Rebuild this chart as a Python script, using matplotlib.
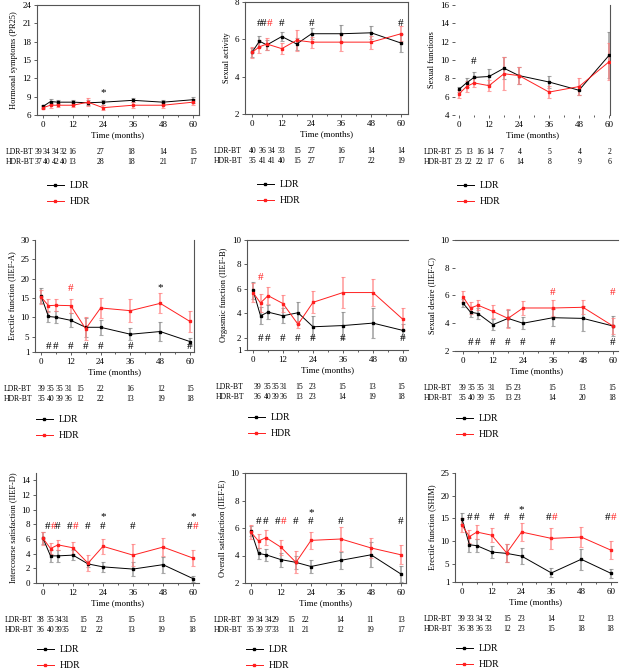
import numpy as np
import matplotlib
matplotlib.use('Agg')
import matplotlib.pyplot as plt

plt.rcParams['font.family'] = 'Liberation Serif'
plt.rcParams['font.size'] = 6

months = [0, 3, 6, 12, 18, 24, 36, 48, 60]

# hormonal symptoms (PR25)
pr25_ldr = [7.4, 8.2, 8.1, 8.1, 8.0, 8.1, 8.4, 8.1, 8.5]
pr25_ldr_err = [0.3, 0.4, 0.3, 0.4, 0.4, 0.4, 0.3, 0.4, 0.5]
pr25_hdr = [7.2, 7.6, 7.6, 7.6, 8.1, 7.2, 7.6, 7.6, 8.1]
pr25_hdr_err = [0.3, 0.4, 0.3, 0.3, 0.6, 0.4, 0.5, 0.4, 0.5]
pr25_n_ldr = [39, 34, 34, 32, 16, 27, 18, 14, 15]
pr25_n_hdr = [37, 40, 42, 40, 13, 28, 18, 21, 17]

# sexual activity
act_ldr = [5.3, 5.9, 5.7, 6.15, 5.75, 6.3, 6.3, 6.35, 5.8]
act_ldr_err = [0.25, 0.3, 0.25, 0.25, 0.3, 0.3, 0.45, 0.35, 0.5]
act_hdr = [5.3, 5.6, 5.75, 5.5, 5.95, 5.85, 5.85, 5.85, 6.3]
act_hdr_err = [0.3, 0.35, 0.3, 0.3, 0.55, 0.3, 0.45, 0.35, 0.4]
act_n_ldr = [40, 36, 34, 33, 15, 27, 16, 14, 14]
act_n_hdr = [35, 41, 41, 40, 15, 27, 17, 22, 19]

# sexual functions
fun_ldr = [6.8, 7.5, 8.1, 8.2, 9.1, 8.3, 7.6, 6.7, 10.5]
fun_ldr_err = [0.3, 0.5, 0.6, 0.8, 1.2, 0.9, 0.7, 0.5, 2.5]
fun_hdr = [6.3, 7.1, 7.5, 7.2, 8.5, 8.3, 6.5, 7.1, 9.8]
fun_hdr_err = [0.4, 0.6, 0.5, 0.6, 1.8, 0.9, 0.7, 0.9, 2.0]
fun_n_ldr = [25, 13, 16, 14, 7, 4, 5, 4, 2]
fun_n_hdr = [23, 22, 22, 17, 6, 14, 8, 9, 6]

# IIEF-A
iiefa_ldr = [15.6, 10.2, 10.0, 9.2, 7.4, 7.4, 5.6, 6.3, 3.7]
iiefa_ldr_err = [2.0, 1.5, 1.6, 1.8, 2.4, 2.0, 1.6, 2.5, 1.0]
iiefa_hdr = [15.3, 13.0, 13.1, 13.0, 7.0, 12.4, 11.7, 13.6, 8.9]
iiefa_hdr_err = [1.8, 1.6, 1.5, 1.8, 3.0, 2.6, 3.0, 2.6, 2.6]
iiefa_n_ldr = [39, 35, 35, 31, 15, 22, 16, 12, 15]
iiefa_n_hdr = [35, 40, 39, 36, 12, 22, 13, 19, 18]

# IIEF-B
iiefb_ldr = [5.9, 3.8, 4.1, 3.8, 4.05, 2.9, 3.0, 3.2, 2.6]
iiefb_ldr_err = [0.7, 0.7, 0.6, 0.6, 0.9, 0.9, 1.1, 1.2, 0.5]
iiefb_hdr = [5.7, 4.85, 5.45, 4.8, 3.1, 4.9, 5.7, 5.7, 3.5]
iiefb_hdr_err = [0.8, 0.7, 0.7, 0.7, 0.3, 0.9, 1.3, 1.1, 0.9]
iiefb_n_ldr = [39, 35, 35, 31, 15, 23, 15, 13, 15]
iiefb_n_hdr = [36, 40, 39, 36, 13, 23, 14, 19, 18]

# IIEF-C
iiefc_ldr = [5.45, 4.8, 4.7, 3.9, 4.35, 4.0, 4.4, 4.35, 3.8]
iiefc_ldr_err = [0.3, 0.35, 0.4, 0.4, 0.6, 0.45, 0.6, 0.9, 0.7]
iiefc_hdr = [5.9, 5.1, 5.3, 4.85, 4.35, 5.1, 5.1, 5.15, 3.8]
iiefc_hdr_err = [0.4, 0.4, 0.35, 0.45, 0.7, 0.5, 0.6, 0.5, 0.6]
iiefc_n_ldr = [39, 35, 35, 31, 15, 23, 15, 13, 15]
iiefc_n_hdr = [35, 40, 39, 35, 13, 23, 14, 20, 18]

# IIEF-D
iiefd_ldr = [6.1, 3.7, 3.7, 3.8, 2.6, 2.2, 1.9, 2.5, 0.6]
iiefd_ldr_err = [0.8, 0.8, 0.8, 0.7, 0.4, 0.7, 1.0, 1.1, 0.4]
iiefd_hdr = [6.1, 4.7, 5.2, 4.8, 2.7, 5.0, 3.8, 4.9, 3.4]
iiefd_hdr_err = [0.9, 0.7, 0.7, 0.8, 1.1, 1.0, 1.5, 1.2, 1.1]
iiefd_n_ldr = [38, 35, 34, 31, 15, 23, 15, 13, 15]
iiefd_n_hdr = [36, 40, 39, 35, 12, 22, 13, 19, 18]

# IIEF-E
iiefe_ldr = [5.8, 4.15, 4.05, 3.7, 3.5, 3.2, 3.65, 4.05, 2.65]
iiefe_ldr_err = [0.35, 0.4, 0.45, 0.5, 0.5, 0.45, 0.6, 0.9, 0.6]
iiefe_hdr = [5.7, 5.05, 5.3, 4.6, 3.5, 5.1, 5.2, 4.55, 4.05]
iiefe_hdr_err = [0.5, 0.5, 0.55, 0.55, 0.8, 0.6, 0.9, 0.7, 0.7]
iiefe_n_ldr = [39, 34, 34, 29, 15, 22, 14, 11, 13]
iiefe_n_hdr = [35, 39, 37, 33, 11, 21, 12, 19, 17]

# SHIM
shim_ldr = [14.9, 9.2, 9.0, 7.6, 7.3, 6.7, 3.0, 6.0, 2.9]
shim_ldr_err = [1.2, 1.5, 1.5, 1.3, 2.0, 1.7, 1.0, 2.3, 1.0]
shim_hdr = [13.5, 11.0, 12.0, 11.3, 7.4, 12.0, 10.6, 10.9, 8.0]
shim_hdr_err = [1.5, 1.4, 1.5, 1.5, 2.0, 2.0, 2.4, 2.3, 2.0]
shim_n_ldr = [39, 33, 34, 32, 15, 23, 14, 12, 13]
shim_n_hdr = [36, 38, 36, 33, 12, 23, 15, 18, 18]

# significance marks: (month, y, colours)
act_hash = [(3, 6.85, 'k'), (6, 6.85, 'kr'), (12, 6.85, 'k'), (24, 6.85, 'k'), (60, 6.85, 'k')]
fun_hash = [(6, 9.8, 'k')]
iiefa_hash = [(3, 2.4, 'k'), (6, 2.4, 'k'), (12, 2.4, 'k'), (18, 2.4, 'k'), (24, 2.4, 'k'),
              (36, 2.4, 'k'), (60, 2.4, 'k'), (12, 17.5, 'r')]
iiefb_hash = [(3, 1.95, 'k'), (6, 1.95, 'k'), (12, 1.95, 'k'), (18, 1.95, 'k'), (24, 1.95, 'k'),
              (36, 1.95, 'k'), (60, 1.95, 'k'), (3, 6.9, 'r')]
iiefc_hash = [(3, 2.6, 'k'), (6, 2.6, 'k'), (12, 2.6, 'k'), (18, 2.6, 'k'), (24, 2.6, 'k'),
              (36, 2.6, 'k'), (60, 2.6, 'k'), (36, 6.2, 'r'), (60, 6.2, 'r')]
iiefd_hash = [(3, 7.7, 'kr'), (6, 7.7, 'k'), (12, 7.7, 'kr'), (18, 7.7, 'k'), (24, 7.7, 'k'),
              (36, 7.7, 'k'), (60, 7.7, 'kr')]
iiefe_hash = [(3, 6.5, 'k'), (6, 6.5, 'k'), (12, 6.5, 'kr'), (18, 6.5, 'k'), (24, 6.5, 'k'),
              (36, 6.5, 'k'), (60, 6.5, 'k')]
shim_hash = [(3, 15.1, 'k'), (6, 15.1, 'k'), (12, 15.1, 'k'), (18, 15.1, 'k'), (24, 15.1, 'k'),
             (36, 15.1, 'kr'), (60, 15.1, 'kr')]

pr25_star = [(24, 9.7)]
iiefa_star = [(48, 17.8)]
iiefd_star = [(24, 9.0), (60, 9.0)]
iiefe_star = [(24, 7.15)]
shim_star = [(24, 17.0)]

panels = [
    dict(ylabel='Hormonal symptoms (PR25)', ldr=pr25_ldr, ldr_err=pr25_ldr_err, hdr=pr25_hdr,
         hdr_err=pr25_hdr_err, n_ldr=pr25_n_ldr, n_hdr=pr25_n_hdr, ylim=(6, 24),
         yticks=[6, 9, 12, 15, 18, 21, 24], hashes=[], stars=pr25_star),
    dict(ylabel='Sexual activity', ldr=act_ldr, ldr_err=act_ldr_err, hdr=act_hdr,
         hdr_err=act_hdr_err, n_ldr=act_n_ldr, n_hdr=act_n_hdr, ylim=(2, 8),
         yticks=[2, 4, 6, 8], hashes=act_hash, stars=[]),
    dict(ylabel='Sexual functions', ldr=fun_ldr, ldr_err=fun_ldr_err, hdr=fun_hdr,
         hdr_err=fun_hdr_err, n_ldr=fun_n_ldr, n_hdr=fun_n_hdr, ylim=(4, 16),
         yticks=[4, 6, 8, 10, 12, 14, 16], hashes=fun_hash, stars=[]),
    dict(ylabel='Erectile function (IIEF-A)', ldr=iiefa_ldr, ldr_err=iiefa_ldr_err, hdr=iiefa_hdr,
         hdr_err=iiefa_hdr_err, n_ldr=iiefa_n_ldr, n_hdr=iiefa_n_hdr, ylim=(1, 30),
         yticks=[1, 5, 10, 15, 20, 25, 30], hashes=iiefa_hash, stars=iiefa_star),
    dict(ylabel='Orgasmic function (IIEF-B)', ldr=iiefb_ldr, ldr_err=iiefb_ldr_err, hdr=iiefb_hdr,
         hdr_err=iiefb_hdr_err, n_ldr=iiefb_n_ldr, n_hdr=iiefb_n_hdr, ylim=(1, 10),
         yticks=[1, 2, 4, 6, 8, 10], hashes=iiefb_hash, stars=[]),
    dict(ylabel='Sexual desire (IIEF-C)', ldr=iiefc_ldr, ldr_err=iiefc_ldr_err, hdr=iiefc_hdr,
         hdr_err=iiefc_hdr_err, n_ldr=iiefc_n_ldr, n_hdr=iiefc_n_hdr, ylim=(2, 10),
         yticks=[2, 4, 6, 8, 10], hashes=iiefc_hash, stars=[]),
    dict(ylabel='Intercourse satisfaction (IIEF-D)', ldr=iiefd_ldr, ldr_err=iiefd_ldr_err,
         hdr=iiefd_hdr, hdr_err=iiefd_hdr_err, n_ldr=iiefd_n_ldr, n_hdr=iiefd_n_hdr, ylim=(0, 15),
         yticks=[0, 2, 4, 6, 8, 10, 12, 14], hashes=iiefd_hash, stars=iiefd_star),
    dict(ylabel='Overall satisfaction (IIEF-E)', ldr=iiefe_ldr, ldr_err=iiefe_ldr_err, hdr=iiefe_hdr,
         hdr_err=iiefe_hdr_err, n_ldr=iiefe_n_ldr, n_hdr=iiefe_n_hdr, ylim=(2, 10),
         yticks=[2, 4, 6, 8, 10], hashes=iiefe_hash, stars=iiefe_star),
    dict(ylabel='Erectile function (SHIM)', ldr=shim_ldr, ldr_err=shim_ldr_err, hdr=shim_hdr,
         hdr_err=shim_hdr_err, n_ldr=shim_n_ldr, n_hdr=shim_n_hdr, ylim=(1, 25),
         yticks=[1, 5, 10, 15, 20, 25], hashes=shim_hash, stars=shim_star),
]

# layout (pixels: left, top, right, bottom) and per-panel styling
W, H = 620, 669
boxes = [(37, 5, 199, 115), (245, 2, 408, 114), (455, 5, 610, 115),
         (35, 240, 194, 352), (247, 240, 408, 350), (455, 240, 618, 351),
         (36, 473, 199, 583), (245, 473, 406, 583), (455, 473, 617, 582)]
xlims = [(-2.4, 62.4), (-2.8, 62.8), (-1.6, 60.4), (-2.4, 61.6), (-2.4, 62),
         (-3.2, 62), (-2.8, 62.4), (-2.4, 62), (-2.8, 62.4)]
shown_spines = ['tblr', 'tblr', 'r', 'lbr', 'tlb', 'tb', 'lb', 'tblr', 'lb']
col_x = [[-1.9, 1.6, 5.0, 8.2, 11.6, 23.2, 35.3, 48.1, 60],
         [0.4, 4.3, 8.0, 12.0, 18.1, 24, 36, 48, 60],
         [0, 4, 8.3, 12.3, 17, 24.3, 36.3, 48.3, 60.3],
         [0.1, 3.75, 7.4, 11.2, 15.9, 23.8, 35.9, 48.2, 60],
         [2, 5.7, 9.1, 12.4, 18.4, 24, 35.6, 47.6, 59.3],
         [0, 3.3, 7, 11.3, 18, 22, 35.7, 47.7, 59.7],
         [-0.8, 3.0, 6.1, 8.9, 16, 22.8, 35.3, 47.3, 59.6],
         [-0.3, 3.5, 6.9, 10, 16.1, 21.7, 35.6, 47.6, 60],
         [0, 3.6, 7.1, 10.7, 18.1, 24.1, 35.9, 48, 59.7]]
legend_dx = [10, 12, 2, 1, 1, 1, 1, 1, 1]
legend_dy = [66, 66, 66, 63, 63, 63, 62, 62, 62]
sides = {'t': 'top', 'b': 'bottom', 'l': 'left', 'r': 'right'}

red = '#ff1f1f'
fig = plt.figure(figsize=(W / 100, H / 100), dpi=100)

for i, p in enumerate(panels):
    l, t, r, b = boxes[i]
    ax = fig.add_axes([l / W, 1 - b / H, (r - l) / W, (b - t) / H])

    ax.errorbar(months, p['ldr'], yerr=p['ldr_err'], fmt='none', ecolor='#8a8a8a',
                elinewidth=1.2, capsize=1.5, capthick=0.8, alpha=0.75, zorder=1)
    ax.errorbar(months, p['hdr'], yerr=p['hdr_err'], fmt='none', ecolor='#ff8080',
                elinewidth=1.2, capsize=1.5, capthick=0.8, alpha=0.75, zorder=1)
    ax.plot(months, p['ldr'], color='black', lw=0.7, marker='s', ms=2, label='LDR', zorder=3)
    ax.plot(months, p['hdr'], color=red, lw=0.7, marker='s', ms=2, label='HDR', zorder=3)

    for m, y, kind in p['hashes']:
        if kind == 'kr':
            ax.annotate('#', (m, y), xytext=(-2.2, 0), textcoords='offset points',
                        ha='center', va='center', fontsize=8, color='black')
            ax.annotate('#', (m, y), xytext=(2.2, 0), textcoords='offset points',
                        ha='center', va='center', fontsize=8, color=red)
        else:
            ax.text(m, y, '#', ha='center', va='center', fontsize=8,
                    color='black' if kind == 'k' else red)
    for m, y in p['stars']:
        ax.text(m, y, '*', ha='center', va='center', fontsize=8, color='black')

    ax.set_xlim(*xlims[i])
    ax.set_ylim(*p['ylim'])
    ax.set_yticks(p['yticks'])
    ax.set_xticks([0, 12, 24, 36, 48, 60])
    ax.set_xticks([6, 18, 30, 42, 54], minor=True)
    ax.tick_params(length=2, width=0.6, pad=2, labelsize=6.5, color='#444444')
    ax.tick_params(which='minor', length=1.5, width=0.6, color='#444444')
    for s in 'tblr':
        ax.spines[sides[s]].set_visible(s in shown_spines[i])
        ax.spines[sides[s]].set_color('#555555')
        ax.spines[sides[s]].set_linewidth(0.8)
    ax.set_xlabel('Time (months)', fontsize=6.5, labelpad=2)
    ax.set_ylabel(p['ylabel'], fontsize=6, labelpad=3)

    # number-at-risk table
    for row, (name, counts) in enumerate([('LDR-BT', p['n_ldr']), ('HDR-BT', p['n_hdr'])]):
        dy = -26.5 - row * 7.2
        ax.annotate(name, (0, 0), xycoords='axes fraction', xytext=(-22.5, dy),
                    textcoords='offset points', ha='left', va='center', fontsize=5.6)
        for x, n in zip(col_x[i], counts):
            ax.annotate(str(n), (x, 0), xycoords=('data', 'axes fraction'), xytext=(0, dy),
                        textcoords='offset points', ha='center', va='center', fontsize=5.6)

    bh = b - t
    ax.legend(loc='upper left', bbox_to_anchor=(legend_dx[i] / (r - l), -(legend_dy[i] / bh)),
              frameon=False, fontsize=7, handlelength=1.7, handletextpad=0.6,
              labelspacing=0.75, borderpad=0, borderaxespad=0)

fig.savefig('out.png', dpi=100)
